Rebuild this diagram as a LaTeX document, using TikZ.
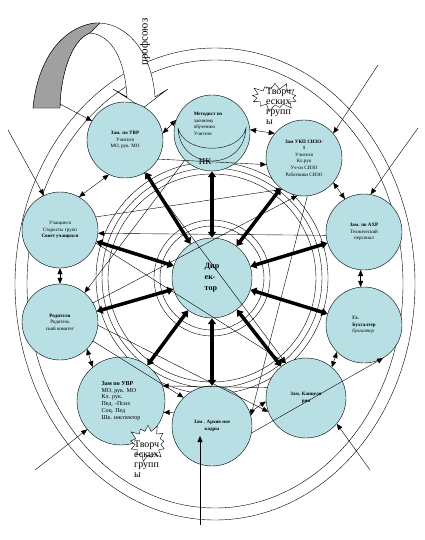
\documentclass[tikz,border=0pt]{standalone}
\usepackage{fontspec}
\setmainfont{Liberation Serif}
\usetikzlibrary{positioning,arrows.meta,shapes.symbols}
\definecolor{unitfill}{RGB}{184,223,228}
\definecolor{tailgray}{RGB}{160,160,160}
\tikzset{
  unit/.style={circle,draw,fill=unitfill,minimum size=76pt,inner sep=0pt,align=center,font=\fontsize{5}{6.6}\selectfont},
  link/.style={-{Triangle[length=6pt,width=5pt]}},
  twoway/.style={{Triangle[length=6pt,width=5pt]}-{Triangle[length=6pt,width=5pt]}},
  spoke/.style={line width=3.5pt,{Triangle[length=6pt,width=8pt]}-{Triangle[length=6pt,width=8pt]}},
  burst/.style={starburst,draw,fill=white,starburst points=13,starburst point height=8pt,inner sep=0pt},
  burstlabel/.style={align=left,font=\fontsize{10}{10}\selectfont,inner sep=0pt}
}
\begin{document}
\begin{tikzpicture}[x=1pt,y=-1pt]
\useasboundingbox (0,0) rectangle (425,540);
% outer rims
\draw (215,284) ellipse [x radius=200,y radius=236];
\draw (215,284) ellipse [x radius=188,y radius=224];
% wheel rings
\coordinate (hub) at (212,278);
\foreach \r in {52,58,104,110,116}
  \draw (hub) circle [radius=\r];

% profsoyuz arrow
\draw[fill=white] (33,108) .. controls (40,40) and (80,22) .. (100,23)
  .. controls (130,25) and (152,55) .. (155,97) -- (168,89) -- (143,108) -- (113,89)
  -- (127,97) .. controls (125,60) and (112,35) .. (90,33)
  .. controls (70,40) and (60,80) .. (60,108) -- cycle;
\draw[fill=tailgray] (33,108) .. controls (40,40) and (80,22) .. (100,23)
  -- (90,33) .. controls (70,40) and (60,80) .. (60,108) -- cycle;
\node[rotate=90,font=\fontsize{11}{11}\selectfont] (union) at (145,42) {профсоюз};

% units
\node[unit] (met) at (212,133) {};
\draw (178,128) .. controls (180,172) and (244,172) .. (246,128)
  .. controls (240,155) and (184,155) .. (178,128);
\node[align=left,font=\fontsize{5}{6.6}\selectfont,inner sep=0pt] (metlabel) at (208,124)
  {\textbf{Методист по}\\заочному\\обучению\\Учителя};
\node[unit] (uvr1) at (125,140) {\textbf{Зам. по УВР}\\Учителя\\МО, рук. МО};
\node[unit] (ukp) at (304,158) {\textbf{Зам УКП СИЗО-}\\\textbf{1}\\Учителя\\Кл.рук\\Уч-си СИЗО\\Работники СИЗО};
\node[unit] (stud) at (60,230) {Учащиеся\\Старосты групп\\\textbf{Совет учащихся}};
\node[unit] (ahr) at (364,232) {\textbf{Зам. по АХР}\\Технический\\персонал};
\node[unit] (par) at (60,322) {\textbf{Родители}\\Родитель\\ский комитет};
\node[unit,align=left] (buh) at (364,325) {\textbf{Гл.}\\\textbf{Бухгалтер}\\\textit{бухгалтер}};
\node[unit,minimum size=88pt,align=left,font=\fontsize{6}{6.8}\selectfont] (uvr2) at (121,401)
  {\textbf{Зам по УВР}\\МО, рук. МО\\Кл. рук.\\Пед. -Псих\\Соц. Пед\\Шк. инспектор};
\node[unit,minimum size=80pt] (kanc) at (306,398) {\textbf{Зам. Канцеля}\\\textbf{рия}};
\node[unit,minimum size=80pt] (arch) at (212,426) {\textbf{Зам . Архив ное}\\\textbf{кадры}};
\node[unit,minimum size=80pt,align=left,font=\bfseries\fontsize{8}{11}\selectfont] (dir) at (hub) {Дир\\ек-\\тор};
\node[font=\fontsize{9}{9}\selectfont] (nk) at (205,162) {НК};

% creative groups
\node[burst,minimum width=52pt,minimum height=32pt] (burst1) at (275,97) {};
\node[burstlabel,anchor=north west] (group1) at (266,88) {Творч\\еских\\групп\\ы};
\node[burst,minimum width=42pt,minimum height=40pt] (burst2) at (148,443) {};
\node[burstlabel,anchor=north west] (group2) at (134,441) {Творч\\еских\\групп\\ы};

% spokes
\foreach \u in {met,uvr1,ukp,stud,ahr,par,buh,uvr2,kanc,arch}
  \draw[spoke] (dir) -- (\u);

% free ends
\coordinate (tail) at (60,104);
\coordinate (ne) at (378,65);
\coordinate (nw) at (8,130);
\coordinate (ene) at (418,128);
\coordinate (sw) at (35,470);
\coordinate (bot) at (200,525);
\coordinate (se) at (370,470);

% links
\draw[link] (tail) -- (uvr1.150);
\draw[link] (ne) -- (ukp.40);
\draw[link] (nw) -- (stud.115);
\draw[link] (ene) -- (ahr.80);
\draw[link] (sw) -- (uvr2.220);
\draw[link,shorten >=10pt] (bot) -- (bot |- arch.center);
\draw[link] (se) -- (kanc.-40);
\draw[twoway] (uvr1.10) -- (met.160);
\draw[twoway] (met.5) -- (ukp.140);
\draw[twoway] (uvr1.245) -- (stud.60);
\draw[twoway] (stud.270) -- (par.90);
\draw[twoway] (par.-45) -- (uvr2.130);
\draw[twoway] (kanc.50) -- (buh.225);
\draw[twoway] (buh.95) -- (ahr.265);
\draw[twoway] (ukp.-40) -- (ahr.120);
\draw[link] (kanc.165) -- (uvr2.20);
\draw[link] (arch.160) -- (uvr2.-15);
\draw[link] (arch.20) -- (kanc.185);
\draw[link] (uvr1.-30) -- (ukp.190);
\draw[link] (stud.20) -- (ukp.235);
\draw[link] (par.30) -- (ukp.260);
\draw[link] (uvr1.-60) -- (kanc.120);
\draw[link] (arch.-10) -- (buh.-60);
\draw[link] (par.-5) -- (kanc.200);
\draw[link] (ukp.275) -- (arch.15);
\draw[link] (par.-30) -- (arch.135);
\draw[link] (met.225) -- (par.50);
\draw[link] (ahr.185) -- (stud.-5);
\draw[link] (stud.-20) -- (kanc.120);
\end{tikzpicture}
\end{document}
